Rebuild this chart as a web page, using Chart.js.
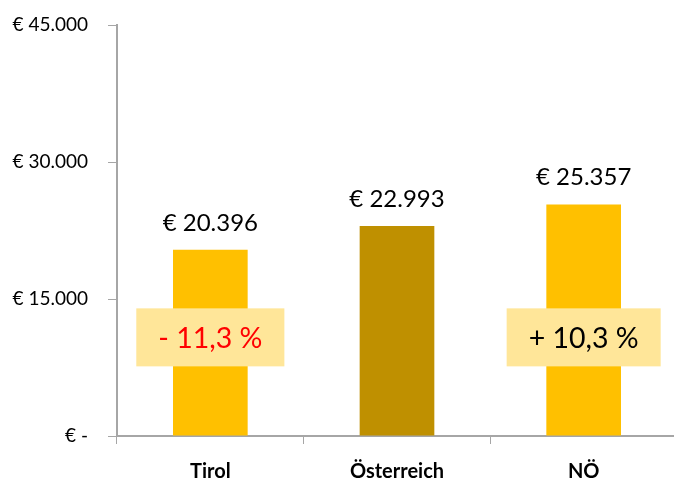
<!DOCTYPE html>
<html>
<head>
<meta charset="utf-8">
<script src="https://cdn.jsdelivr.net/npm/chart.js@4"></script>
<style>
  html, body { margin: 0; padding: 0; background: #fff; overflow: hidden; }
  #wrap { position: relative; width: 680px; height: 479px; }
</style>
</head>
<body>
<div id="wrap"><canvas id="incomeChart"></canvas></div>
<script>
// Data
const categories = ['Tirol', 'Österreich', 'NÖ'];
const incomeValues = [20396, 22993, 25357];
const barColors = ['#FFC000', '#BF9000', '#FFC000'];
const diffLabels = ['- 11,3 %', null, '+ 10,3 %'];
const diffColors = ['#FF0000', null, '#000000'];
const yTicks = [0, 15000, 30000, 45000];

const fontFamily = 'Lato, "Open Sans", sans-serif';
const axisGray = '#A6A6A6';

function euro(v) {
    if (v === 0) return '€ -';
    return '€ ' + v.toLocaleString('de-DE');
}

// Value labels above bars + difference boxes
const labelPlugin = {
    id: 'labels',
    afterDatasetsDraw(chart) {
        const ctx = chart.ctx;
        const meta = chart.getDatasetMeta(0);
        const y = chart.scales.y;
        ctx.save();
        meta.data.forEach(function(bar, i) {
            ctx.font = '24px ' + fontFamily;
            ctx.fillStyle = '#000';
            ctx.textAlign = 'center';
            ctx.textBaseline = 'alphabetic';
            ctx.fillText(euro(incomeValues[i]), bar.x, bar.y - 19);

            if (diffLabels[i]) {
                ctx.font = '28.5px ' + fontFamily;
                const w = ctx.measureText(diffLabels[i]).width + 44;
                const h = 58;
                const cy = y.getPixelForValue(10800);
                ctx.fillStyle = '#FFE699';
                ctx.fillRect(bar.x - w / 2, cy - h / 2, w, h);
                ctx.fillStyle = diffColors[i];
                ctx.textBaseline = 'middle';
                ctx.fillText(diffLabels[i], bar.x, cy + 1);
            }
        });
        ctx.restore();
    }
};

const ctx = document.getElementById('incomeChart').getContext('2d');
new Chart(ctx, {
    type: 'bar',
    data: {
        labels: categories,
        datasets: [{
            data: incomeValues,
            backgroundColor: barColors,
            borderWidth: 0,
            barPercentage: 0.4,
            categoryPercentage: 1.0
        }]
    },
    options: {
        responsive: true,
        maintainAspectRatio: false,
        animation: false,
        layout: { padding: { top: 25, right: 3, left: 0, bottom: 0 } },
        plugins: {
            legend: { display: false },
            tooltip: { enabled: false }
        },
        scales: {
            x: {
                grid: {
                    offset: true,
                    drawOnChartArea: false,
                    color: axisGray,
                    tickLength: 8
                },
                border: { color: axisGray, width: 2 },
                ticks: {
                    color: '#000',
                    padding: 16,
                    font: { family: fontFamily, size: 20, weight: 'bold' }
                },
                afterFit(scale) { scale.height = 43; }
            },
            y: {
                min: 0,
                max: 45000,
                afterBuildTicks(scale) {
                    scale.ticks = yTicks.map(function(v) { return { value: v }; });
                },
                grid: {
                    drawOnChartArea: false,
                    color: axisGray,
                    tickLength: 9
                },
                border: { color: axisGray, width: 2 },
                ticks: {
                    color: '#000',
                    padding: 20,
                    font: { family: fontFamily, size: 19 },
                    callback: function(v) { return euro(v); }
                },
                afterFit(scale) {
                    scale.width = 117;
                    scale.paddingTop = 0;
                    scale.paddingBottom = 0;
                }
            }
        }
    },
    plugins: [labelPlugin]
});
</script>
</body>
</html>
